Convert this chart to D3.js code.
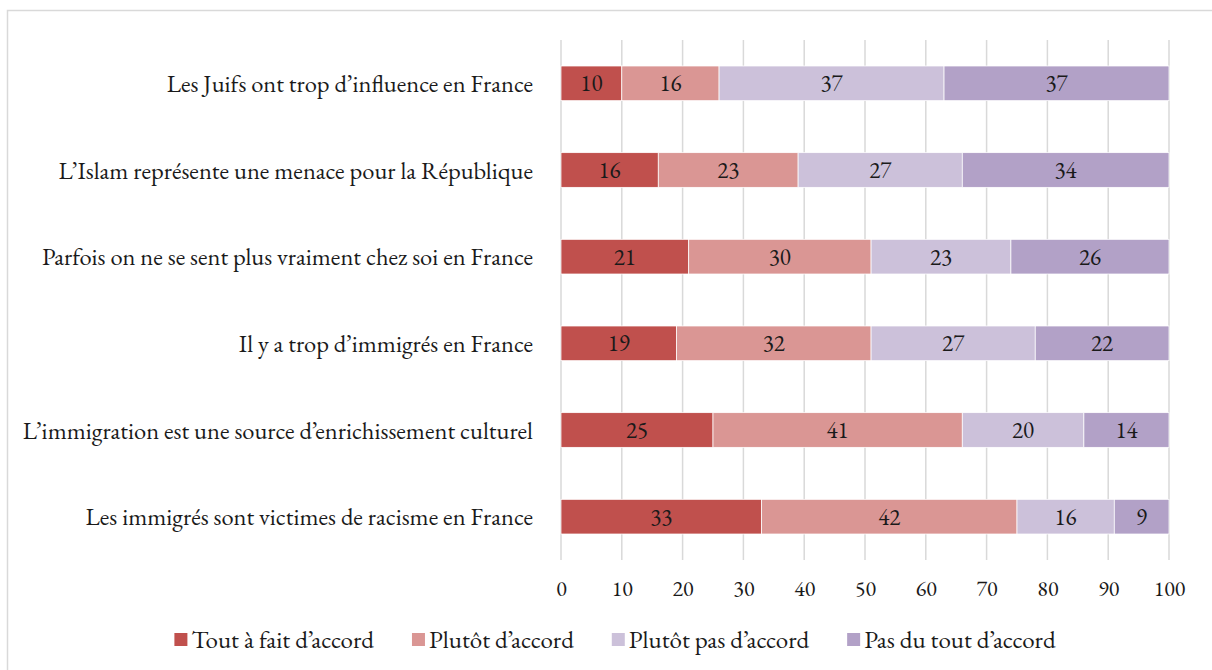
<!DOCTYPE html>
<html>
<head>
<meta charset="utf-8">
<script src="https://cdn.jsdelivr.net/npm/d3@7"></script>
<style>
  body { margin: 0; background: #fff; }
  text { font-family: "EB Garamond", Garamond, "Liberation Serif", "DejaVu Serif", serif; fill: #1a1a1a; }
</style>
</head>
<body>
<script>
// categories top to bottom
var categories = [
    "Les Juifs ont trop d\u2019influence en France",
    "L\u2019Islam représente une menace pour la République",
    "Parfois on ne se sent plus vraiment chez soi en France",
    "Il y a trop d\u2019immigrés en France",
    "L\u2019immigration est une source d\u2019enrichissement culturel",
    "Les immigrés sont victimes de racisme en France"
];

var series = ["Tout à fait d\u2019accord", "Plutôt d\u2019accord", "Plutôt pas d\u2019accord", "Pas du tout d\u2019accord"];

var toutAFait = [10, 16, 21, 19, 25, 33];
var plutot = [16, 23, 30, 32, 41, 42];
var plutotPas = [37, 27, 23, 27, 20, 16];
var pasDuTout = [37, 34, 26, 22, 14, 9];

var ticks = [0, 10, 20, 30, 40, 50, 60, 70, 80, 90, 100];

var colors = ["#c0504d", "#da9694", "#ccc1da", "#b2a1c7"];

var W = 1212, H = 670;
var svg = d3.select("body").append("svg")
    .attr("width", W)
    .attr("height", H);

// chart frame
svg.append("rect")
    .attr("x", 7.5).attr("y", 10.5)
    .attr("width", W + 20).attr("height", H + 20)
    .attr("fill", "none")
    .attr("stroke", "#d9d9d9")
    .attr("stroke-width", 1.5);

var plotLeft = 561, plotRight = 1169, plotTop = 40, plotBottom = 560;

var x = d3.scaleLinear().domain([0, 100]).range([plotLeft, plotRight]);
var y = d3.scaleBand().domain(categories).range([plotTop, plotBottom]).paddingInner(0.6).paddingOuter(0.3);

// grid
svg.append("g").selectAll("line")
    .data(ticks).enter().append("line")
    .attr("x1", d => x(d)).attr("x2", d => x(d))
    .attr("y1", plotTop).attr("y2", plotBottom)
    .attr("stroke", "#d9d9d9")
    .attr("stroke-width", 1.5);

// stack
var rows = categories.map(function(c, i) {
    return {cat: c, s0: toutAFait[i], s1: plutot[i], s2: plutotPas[i], s3: pasDuTout[i]};
});
var stack = d3.stack().keys(["s0", "s1", "s2", "s3"])(rows);

var layers = svg.append("g").selectAll("g")
    .data(stack).enter().append("g")
    .attr("fill", (d, i) => colors[i]);

layers.selectAll("rect")
    .data(d => d).enter().append("rect")
    .attr("x", d => x(d[0]))
    .attr("width", d => x(d[1]) - x(d[0]))
    .attr("y", d => y(d.data.cat))
    .attr("height", y.bandwidth())
    .attr("stroke", "#fff")
    .attr("stroke-width", 0.75);

layers.selectAll("text")
    .data(d => d).enter().append("text")
    .attr("x", d => (x(d[0]) + x(d[1])) / 2)
    .attr("y", d => y(d.data.cat) + y.bandwidth() / 2)
    .attr("dy", "0.35em")
    .attr("text-anchor", "middle")
    .attr("fill", "#1a1a1a")
    .style("font-size", "23px")
    .text(d => d[1] - d[0]);

// category labels
svg.append("g").selectAll("text")
    .data(categories).enter().append("text")
    .attr("x", 533)
    .attr("y", d => y(d) + y.bandwidth() / 2)
    .attr("dy", "0.35em")
    .attr("text-anchor", "end")
    .style("font-size", "24.5px")
    .text(d => d);

// x axis labels
var xAxis = svg.append("g")
    .attr("transform", "translate(0," + plotBottom + ")")
    .call(d3.axisBottom(x).tickValues(ticks).tickSize(0).tickPadding(20));
xAxis.select(".domain").remove();
xAxis.selectAll("text")
    .style("font-size", "22px")
    .attr("font-family", null)
    .attr("fill", "#1a1a1a");

// legend
var legend = svg.append("g");
var items = legend.selectAll("g")
    .data(series).enter().append("g");
items.append("rect")
    .attr("width", 13).attr("height", 13)
    .attr("y", -6)
    .attr("fill", (d, i) => colors[i]);
items.append("text")
    .attr("x", 17)
    .attr("dy", "0.35em")
    .style("font-size", "25px")
    .text(d => d);

var pos = 0, gap = 38;
items.each(function() {
    var w = 17 + d3.select(this).select("text").node().getComputedTextLength();
    d3.select(this).attr("transform", "translate(" + pos + ",0)");
    pos += w + gap;
});
var total = pos - gap;
legend.attr("transform", "translate(" + (615 - total / 2) + ",639)");
</script>
</body>
</html>
